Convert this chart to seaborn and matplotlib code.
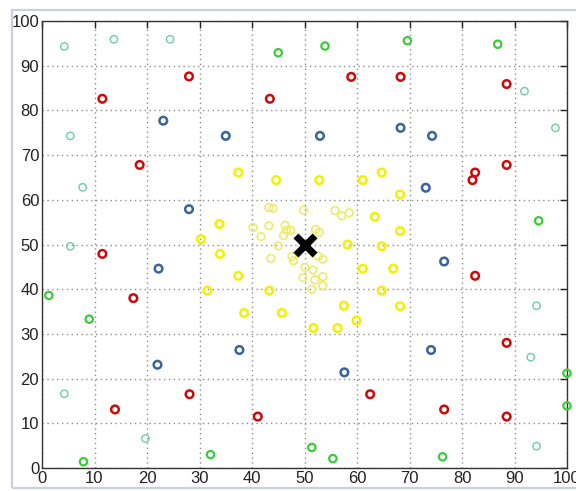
import matplotlib
matplotlib.use("Agg")
import matplotlib.pyplot as plt
from matplotlib.patches import Rectangle
import seaborn as sns
import pandas as pd

# Target location
target_x = [50]
target_y = [50]

# Outer ring of yellow nodes
yellow_x = [37.4, 44.6, 52.8, 61.1, 64.7, 68.2, 68.2, 33.8, 30.3, 63.4, 64.7, 58.2,
            33.9, 37.4, 31.5, 43.3, 38.5, 45.7, 51.7, 56.3, 59.9, 57.5, 61.1, 64.7,
            66.9, 68.2]
yellow_y = [66.1, 64.4, 64.4, 64.4, 66.1, 61.2, 53.0, 54.6, 51.2, 56.2, 49.6, 50.0,
            47.9, 43.0, 39.7, 39.7, 34.7, 34.7, 31.3, 31.3, 33.0, 36.3, 44.6, 39.7,
            44.6, 36.2]

# Dense yellow nodes close to the target
inner_x = [43.2, 44.0, 49.8, 55.8, 57.1, 58.5, 40.2, 43.2, 46.3, 46.6, 47.4, 41.7,
           46.0, 45.0, 52.1, 52.8, 47.6, 47.9, 43.6, 50.1, 51.6, 52.6, 53.5, 49.7,
           52.0, 53.5, 53.5, 51.4]
inner_y = [58.3, 58.1, 57.7, 57.6, 56.4, 57.1, 53.8, 54.2, 54.3, 53.2, 53.2, 51.8,
           52.0, 49.7, 53.4, 52.7, 47.3, 46.4, 46.9, 44.9, 44.3, 47.4, 46.7, 42.6,
           42.1, 42.8, 40.8, 40.0]

blue_x = [23.1, 28.0, 22.2, 22.0, 35.0, 52.95, 68.3, 74.3, 73.1, 76.6, 74.1, 37.6, 57.6]
blue_y = [77.7, 57.9, 44.6, 23.1, 74.3, 74.3, 76.1, 74.3, 62.7, 46.2, 26.4, 26.4, 21.4]

red_x = [28.0, 11.5, 18.6, 11.5, 17.4, 28.1, 13.9, 58.9, 43.4, 68.3, 88.5, 88.5,
         82.5, 82.0, 82.5, 88.5, 76.6, 88.5, 62.5, 41.1]
red_y = [87.6, 82.6, 67.8, 47.9, 38.0, 16.5, 13.1, 87.5, 82.6, 87.5, 85.9, 67.8,
         66.1, 64.4, 43.0, 28.0, 13.1, 11.5, 16.5, 11.5]

green_x = [45.0, 53.9, 69.6, 86.8, 94.6, 1.3, 9.0, 7.9, 32.1, 51.4, 55.4, 76.3, 100.0, 100.0]
green_y = [92.9, 94.4, 95.6, 94.8, 55.3, 38.6, 33.3, 1.4, 3.0, 4.6, 2.1, 2.5, 21.2, 13.9]

pale_x = [4.25, 13.7, 24.4, 5.4, 7.75, 5.4, 4.25, 19.7, 91.9, 97.8, 94.2, 93.1, 94.2]
pale_y = [94.3, 95.9, 95.9, 74.3, 62.8, 49.6, 16.6, 6.6, 84.3, 76.1, 36.3, 24.8, 4.9]

ticks = list(range(0, 101, 10))

sns.set_theme(style="white")
plt.rcParams["font.family"] = ["Liberation Sans", "DejaVu Sans"]

fig = plt.figure(figsize=(5.76, 4.91), dpi=100)
ax = fig.add_axes([42 / 576, 1 - 468 / 491, 525 / 576, 447 / 491])

# light frame around the panel
fig.patches.append(Rectangle((12 / 576, 3 / 491), 1.2, 478 / 491,
                             transform=fig.transFigure, fill=False,
                             edgecolor="#c9cfdb", linewidth=1.6))

groups = [
    (pale_x, pale_y, "#6ccf9f", 1.0, 28),
    (green_x, green_y, "#3ccb3c", 1.6, 28),
    (red_x, red_y, "#cc0a0a", 1.8, 30),
    (blue_x, blue_y, "#38649c", 1.8, 30),
    (inner_x, inner_y, "#eeea6a", 1.2, 30),
    (yellow_x, yellow_y, "#f5f000", 1.8, 30),
]
for gx, gy, col, lw, size in groups:
    df = pd.DataFrame({"x": gx, "y": gy})
    sns.scatterplot(data=df, x="x", y="y", ax=ax, marker="o", s=size,
                    color=col, facecolor="none", edgecolor=col,
                    linewidth=lw, clip_on=False, zorder=3, legend=False)

df_t = pd.DataFrame({"x": target_x, "y": target_y})
sns.scatterplot(data=df_t, x="x", y="y", ax=ax, marker="x", s=190,
                color="black", linewidth=5, zorder=5, legend=False)

ax.set_xlim(0, 100)
ax.set_ylim(0, 100)
ax.set_xticks(ticks)
ax.set_yticks(ticks)
ax.set_xlabel("")
ax.set_ylabel("")
ax.grid(True, linestyle=(0, (1, 2.5)), color="#8c8c8c", linewidth=1.0)
ax.set_axisbelow(True)
ax.tick_params(direction="in", length=5, width=1, top=True, right=True,
               labelsize=12, colors="#222222", pad=2)
ax.tick_params(axis="both", labelcolor="#222222")
for sp in ax.spines.values():
    sp.set_color("#333333")
    sp.set_linewidth(1.0)

fig.savefig("out.png", dpi=100)
